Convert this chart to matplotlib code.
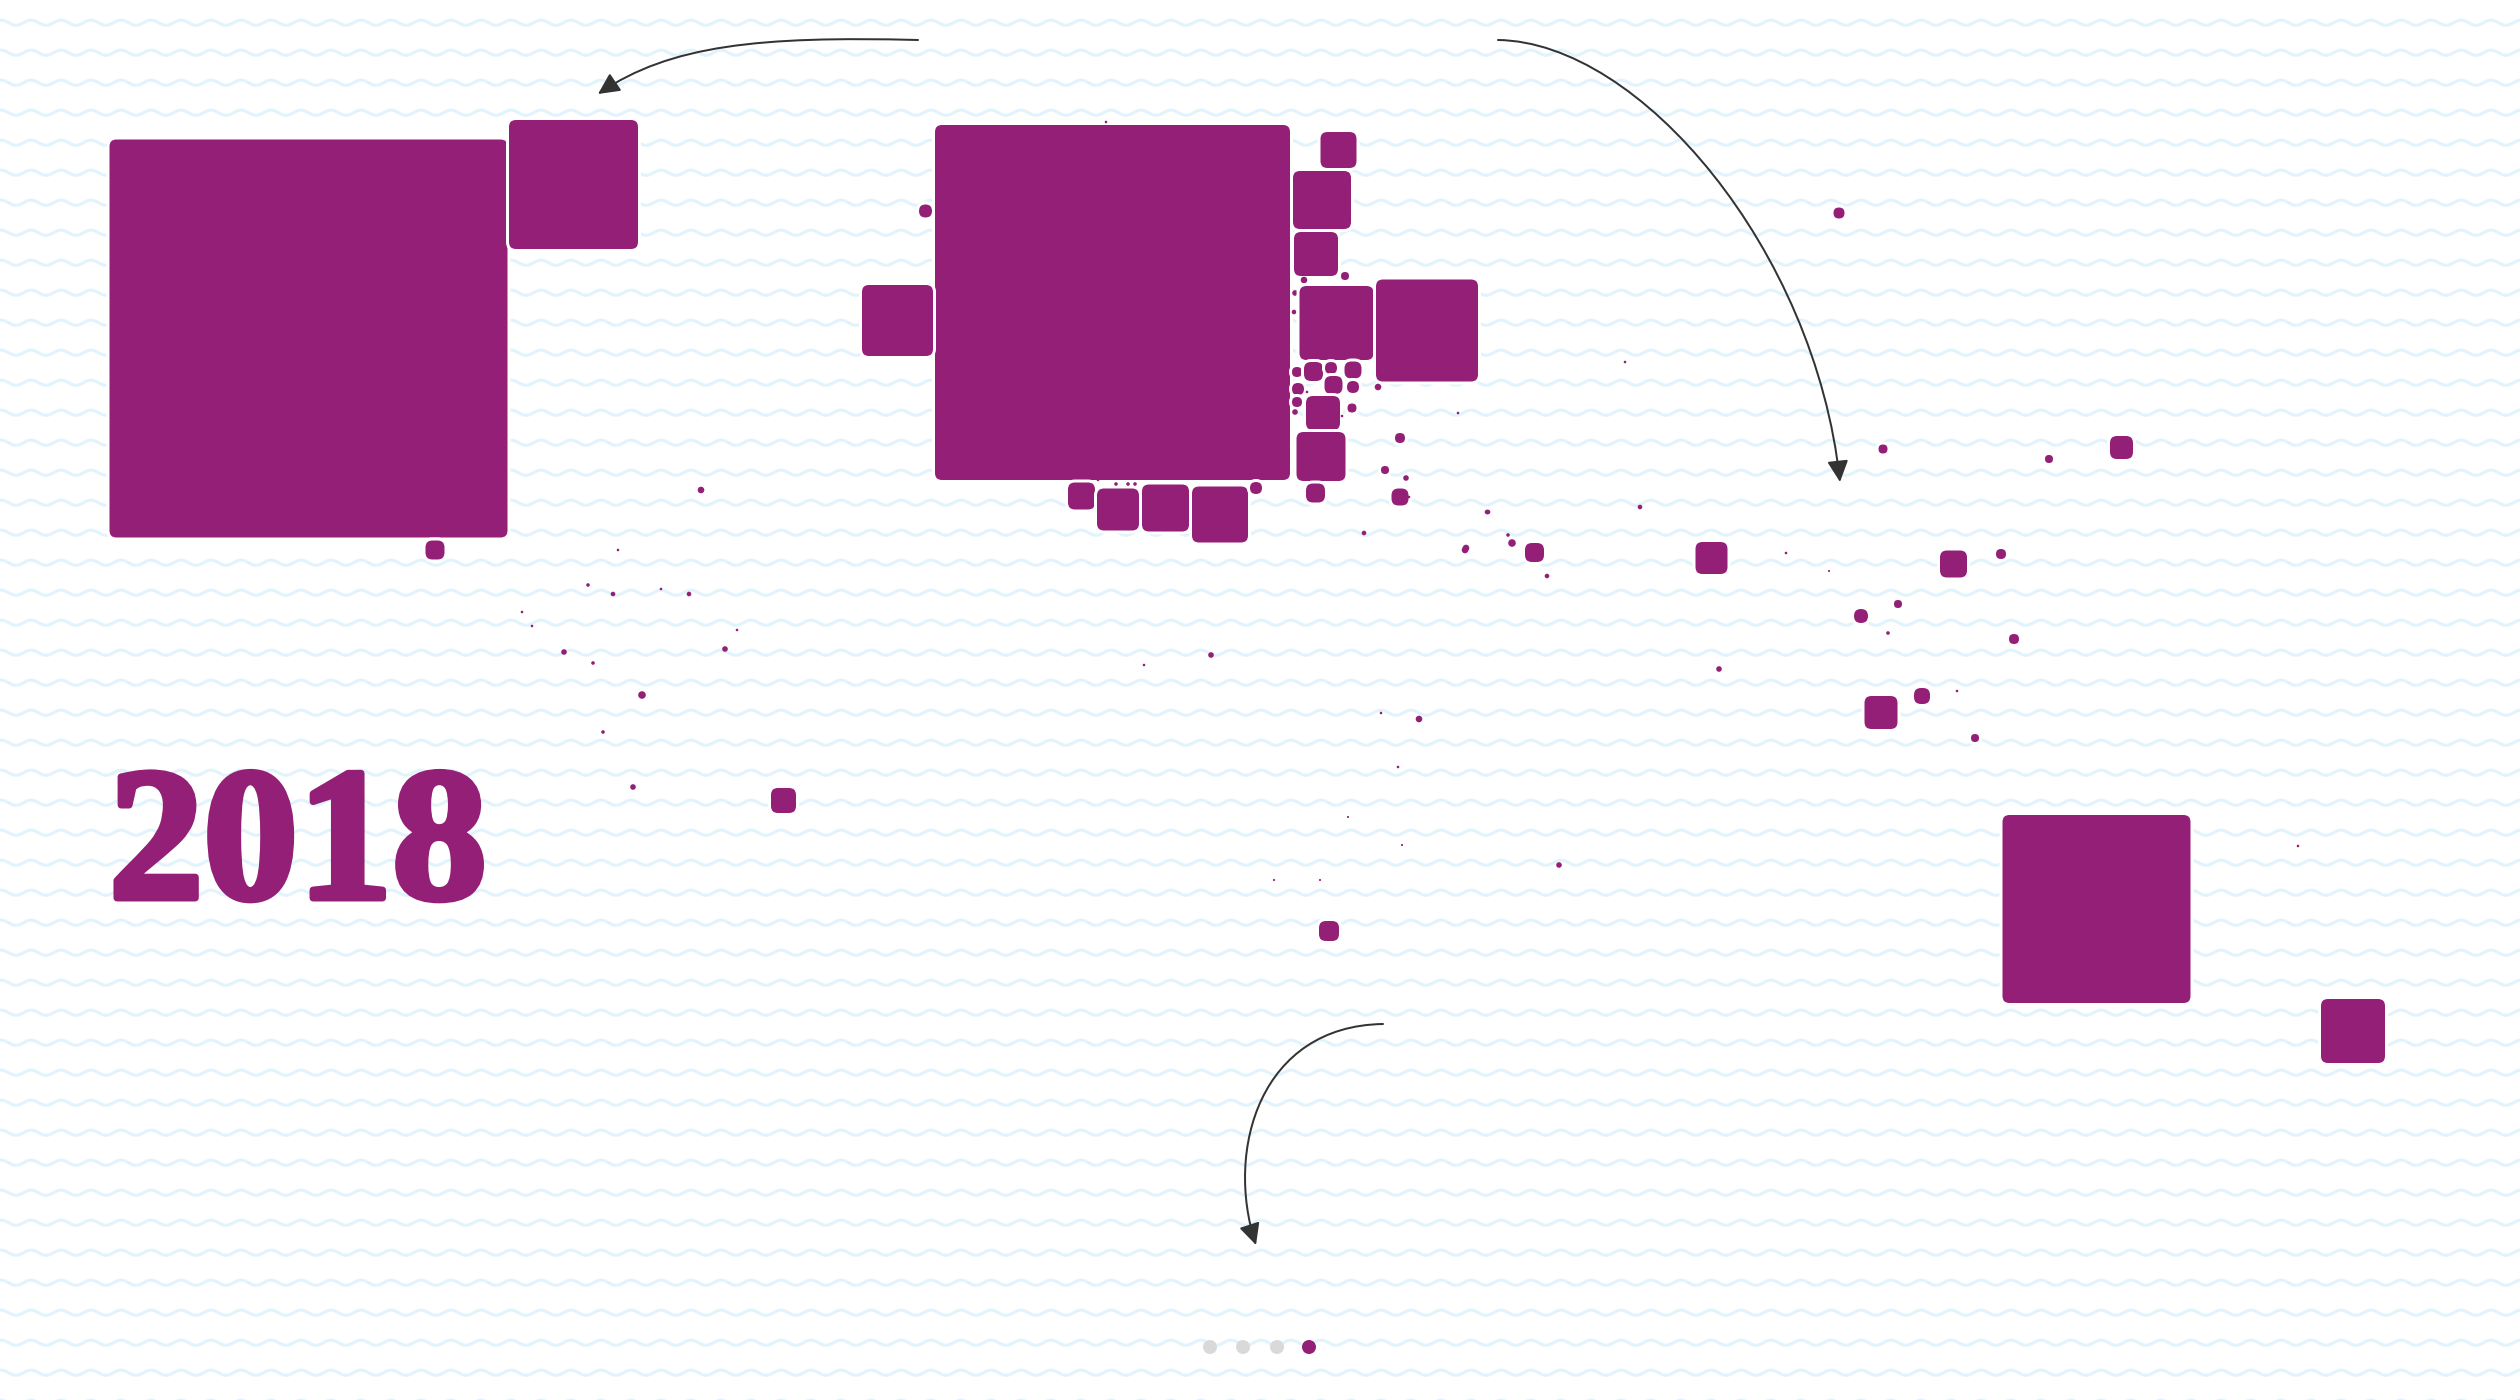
import numpy as np
import matplotlib
matplotlib.use("Agg")
import matplotlib.pyplot as plt
from matplotlib.patches import FancyBboxPatch, FancyArrowPatch, Circle
from matplotlib.path import Path
import matplotlib.patheffects as pe

PURPLE = "#931f76"
WAVE = "#e1f3fc"

# squares: centre x, centre y, side (pixels of the 2520x1400 canvas)
sq_x = [308.5, 573.5, 435,
        1112.5, 897.5, 925.5, 1338.5, 1322, 1316, 1345, 1304, 1295, 1294,
        1336.5, 1427, 1297, 1313.5, 1331, 1353, 1298, 1333.5, 1353, 1307, 1378,
        1297, 1295, 1323, 1352, 1342, 1321, 1315.5, 1400, 1385, 1406, 1400, 1409,
        1488, 1364, 1466, 1081.5, 1118, 1165.5, 1220, 1256, 1116, 1128, 1135,
        1106, 1098,
        1839, 1883, 1625, 1458, 1487, 1640, 1508, 1512, 1465, 1534.5, 1547,
        1711.5, 1786, 1829, 1953.5, 2001, 2121.5, 2049, 1898, 1861, 1888, 2014,
        1719, 1922, 1957, 1881, 1975,
        1211, 1381, 1419, 1398, 1348, 1402, 1274, 1320, 1559, 1329, 2298, 1144,
        701, 618, 588, 613, 661, 689, 522, 532, 737, 564, 593, 725, 642, 603, 633,
        783.5,
        2096.5, 2353]
sq_y = [338.5, 184.5, 550,
        302.5, 320.5, 211, 150, 200, 254, 276, 280, 293, 312,
        323, 330.5, 372, 371.5, 368, 370, 389, 385, 387, 392, 387,
        402, 412, 413, 408, 416, 456.5, 493, 438, 470, 478, 497, 497,
        512, 533, 548, 496, 509.5, 508, 514.5, 488, 484, 484, 484,
        122, 480,
        213, 449, 362, 413, 512, 507, 535, 543, 550, 552.5, 576,
        558, 553, 571, 564, 554, 447.5, 459, 604, 616, 633, 639,
        669, 696, 691, 712.5, 738,
        655, 713, 719, 767, 817, 845, 880, 880, 865, 931, 846, 665,
        490, 550, 585, 594, 589, 594, 612, 626, 630, 652, 663, 649, 695, 732, 787,
        800.5,
        909, 1031]
sq_size = [398, 129, 19,
           355, 71, 13, 36, 58, 44, 8, 6, 5, 4,
           74, 102, 10, 19, 12, 17, 12, 18, 12, 2, 6,
           10, 5, 34, 9, 2, 49, 19, 10, 8, 5, 17, 2,
           4, 4, 6, 27, 42, 47, 56, 12, 3, 3, 3,
           2, 2,
           11, 9, 2, 2, 4, 4, 3, 7, 6, 19, 4,
           32, 2, 1.5, 27, 10, 23, 8, 8, 14, 3, 10,
           5, 16, 2, 33, 8,
           5, 2, 6, 2, 1.5, 1.5, 1.5, 1.5, 5, 20, 2, 2,
           6, 2, 3, 4, 2, 4, 2, 2, 2, 5, 3, 5, 7, 3, 5,
           25,
           188, 64]

year_label = "2018"
page_dots = [1210, 1243, 1277, 1309]
page_active = 3

# arrows: start, two control points, end
arrows = [
    [(918, 40), (760, 36), (670, 45), (598, 94)],
    [(1498, 40), (1640, 42), (1815, 250), (1840, 482)],
    [(1383, 1024), (1260, 1026), (1225, 1150), (1256, 1245)],
]

fig = plt.figure(figsize=(25.2, 14), dpi=100)
ax = fig.add_axes([0, 0, 1, 1])
ax.set_xlim(0, 2520)
ax.set_ylim(1400, 0)
ax.axis("off")
fig.patch.set_facecolor("white")

# wavy background
xw = np.arange(0, 2521, 1.0)
for y0 in np.arange(22.7, 1420, 30):
    ax.plot(xw, y0 - 2.6 * np.cos(2 * np.pi * (xw - 31) / 30), color=WAVE,
            lw=3 * 0.72, zorder=1, solid_capstyle="butt")

PX = 0.72  # points per pixel
for cx, cy, s in zip(sq_x, sq_y, sq_size):
    r = min(7.0, s / 2)
    if s >= 8:
        pad = 1.5
        patch = FancyBboxPatch((cx - s / 2 - pad, cy - s / 2 - pad), s + 2 * pad, s + 2 * pad,
                               boxstyle=f"round,pad=0,rounding_size={r + pad}",
                               fc=PURPLE, ec="white", lw=3 * PX, zorder=3)
    else:
        patch = Circle((cx, cy), s / 2 + 0.3, fc=PURPLE, ec="none", zorder=3)
    ax.add_patch(patch)

for pts in arrows:
    path = Path(pts, [Path.MOVETO, Path.CURVE4, Path.CURVE4, Path.CURVE4])
    ax.add_patch(FancyArrowPatch(path=path, arrowstyle="-|>,head_length=0.65,head_width=0.32",
                                 mutation_scale=20, color="#333333", lw=2 * PX, zorder=4))

ax.text(109, 898, year_label, color=PURPLE, fontsize=136, fontweight="bold",
        family=["Liberation Serif", "DejaVu Serif"], ha="left", va="baseline", zorder=5,
        path_effects=[pe.withStroke(linewidth=5, foreground=PURPLE)])

for i, px in enumerate(page_dots):
    ax.add_patch(Circle((px, 1347), 7, fc=PURPLE if i == page_active else "#d9d9d9",
                        ec="none", zorder=5))

fig.savefig("out.png", dpi=100, facecolor="white")
